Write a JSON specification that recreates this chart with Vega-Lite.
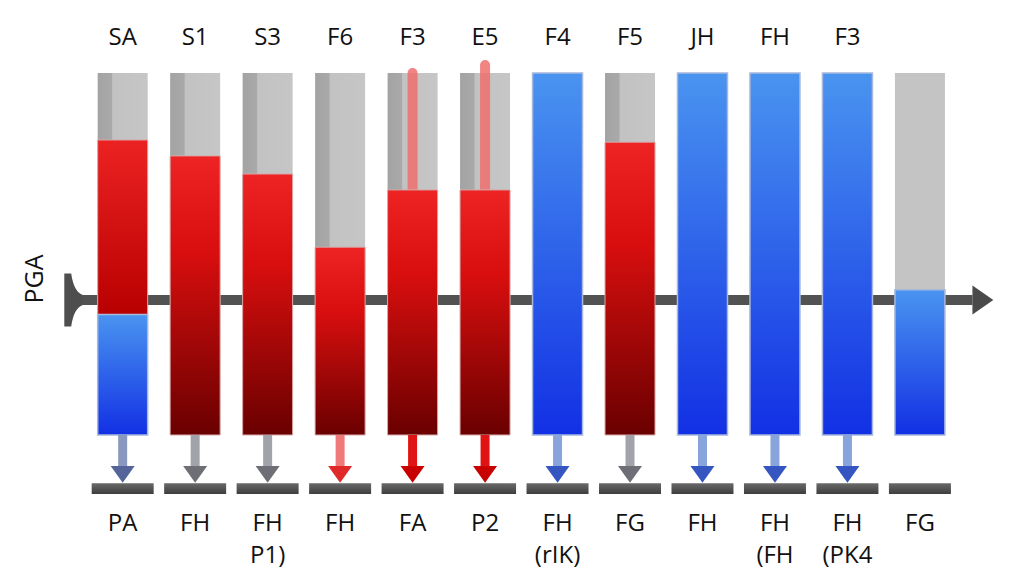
{
  "$schema": "https://vega.github.io/schema/vega-lite/v6.json",
  "width": 1024,
  "height": 585,
  "autosize": {"type": "fit", "contains": "padding"},
  "padding": 0,
  "background": "white",
  "config": {"view": {"stroke": null}},
  "datasets": {
    "cols": [
      {"i": 1, "top": "SA", "bottom": "PA", "bottom2": "", "arrow": "bluegrey"},
      {"i": 2, "top": "S1", "bottom": "FH", "bottom2": "", "arrow": "grey"},
      {"i": 3, "top": "S3", "bottom": "FH", "bottom2": "P1)", "arrow": "grey"},
      {"i": 4, "top": "F6", "bottom": "FH", "bottom2": "", "arrow": "lightred"},
      {"i": 5, "top": "F3", "bottom": "FA", "bottom2": "", "arrow": "red"},
      {"i": 6, "top": "E5", "bottom": "P2", "bottom2": "", "arrow": "red"},
      {"i": 7, "top": "F4", "bottom": "FH", "bottom2": "(rIK)", "arrow": "blue"},
      {"i": 8, "top": "F5", "bottom": "FG", "bottom2": "", "arrow": "grey"},
      {"i": 9, "top": "JH", "bottom": "FH", "bottom2": "", "arrow": "blue"},
      {"i": 10, "top": "FH", "bottom": "FH", "bottom2": "(FH", "arrow": "blue"},
      {"i": 11, "top": "F3", "bottom": "FH", "bottom2": "(PK4", "arrow": "blue"},
      {"i": 12, "top": "", "bottom": "FG", "bottom2": "", "arrow": "none"}
    ],
    "segments": [
      {"i": 1, "kind": "redtop", "from": 33.3, "to": 81.5},
      {"i": 1, "kind": "blue", "from": 0, "to": 33.3},
      {"i": 2, "kind": "red", "from": 0, "to": 77.1},
      {"i": 3, "kind": "red", "from": 0, "to": 72.1},
      {"i": 4, "kind": "red", "from": 0, "to": 51.9},
      {"i": 5, "kind": "red", "from": 0, "to": 67.7},
      {"i": 6, "kind": "red", "from": 0, "to": 67.7},
      {"i": 7, "kind": "blue", "from": 0, "to": 100},
      {"i": 8, "kind": "red", "from": 0, "to": 80.9},
      {"i": 9, "kind": "blue", "from": 0, "to": 100},
      {"i": 10, "kind": "blue", "from": 0, "to": 100},
      {"i": 11, "kind": "blue", "from": 0, "to": 100},
      {"i": 12, "kind": "blue", "from": 0, "to": 40.1}
    ],
    "spikes": [
      {"i": 5, "from": 67.7, "to": 100},
      {"i": 6, "from": 67.7, "to": 102.2}
    ]
  },
  "encoding": {
    "x": {"type": "quantitative", "scale": {"domain": [-0.6236, 13.367], "nice": false, "zero": false}, "axis": null},
    "y": {"type": "quantitative", "scale": {"domain": [-41.44, 120.17], "nice": false, "zero": false}, "axis": null}
  },
  "layer": [
    {
      "data": {"values": [{"part": "axis"}]},
      "mark": {"type": "rule", "strokeWidth": 10, "color": "#525252"},
      "encoding": {
        "x": {"datum": 0.2235, "type": "quantitative"},
        "x2": {"datum": 12.725},
        "y": {"datum": 37.3, "type": "quantitative"}
      }
    },
    {
      "data": {"values": [{"part": "anvil"}]},
      "mark": {"type": "point", "filled": true, "opacity": 1, "color": "#4e4e4e", "size": 2809, "shape": "M -0.34 -1 L -0.08 -1 Q 0.02 -0.3 0.36 -0.19 L 0.36 0.19 Q 0.02 0.3 -0.08 1 L -0.34 1 Z"},
      "encoding": {
        "x": {"datum": 0.319, "type": "quantitative"},
        "y": {"datum": 37.3, "type": "quantitative"}
      }
    },
    {
      "data": {"values": [{"part": "arrowhead"}]},
      "mark": {"type": "point", "filled": true, "opacity": 1, "color": "#4a4a4a", "size": 841, "shape": "M -0.72 -1 L 0.72 0 L -0.72 1 Z"},
      "encoding": {
        "x": {"datum": 12.869, "type": "quantitative"},
        "y": {"datum": 37.3, "type": "quantitative"}
      }
    },
    {
      "data": {"name": "cols"},
      "transform": [{"filter": "datum.i < 12"}],
      "mark": {"type": "bar", "width": 50, "color": {"gradient": "linear", "x1": 0, "y1": 0, "x2": 1, "y2": 0, "stops": [{"offset": 0, "color": "#a3a3a3"}, {"offset": 0.28, "color": "#a9a9a9"}, {"offset": 0.3, "color": "#c2c2c2"}, {"offset": 1, "color": "#c6c6c6"}]}},
      "encoding": {
        "x": {"field": "i"},
        "y": {"datum": 100, "type": "quantitative"},
        "y2": {"datum": 0}
      }
    },
    {
      "data": {"name": "cols"},
      "transform": [{"filter": "datum.i === 12"}],
      "mark": {"type": "bar", "width": 50, "color": "#c4c4c4"},
      "encoding": {
        "x": {"field": "i"},
        "y": {"datum": 100, "type": "quantitative"},
        "y2": {"datum": 0}
      }
    },
    {
      "data": {"name": "spikes"},
      "mark": {"type": "rule", "strokeWidth": 10, "strokeCap": "round", "color": "#f06e6e", "opacity": 0.85},
      "encoding": {
        "x": {"field": "i"},
        "y": {"field": "to", "type": "quantitative"},
        "y2": {"field": "from"}
      }
    },
    {
      "data": {"name": "segments"},
      "transform": [{"filter": "datum.kind === 'red'"}],
      "mark": {"type": "bar", "width": 50, "stroke": "#d8a8a8", "strokeWidth": 1, "color": {"gradient": "linear", "x1": 0, "y1": 0, "x2": 0, "y2": 1, "stops": [{"offset": 0, "color": "#ee2424"}, {"offset": 0.35, "color": "#d80e0e"}, {"offset": 1, "color": "#6a0000"}]}},
      "encoding": {
        "x": {"field": "i"},
        "y": {"field": "to", "type": "quantitative"},
        "y2": {"field": "from"}
      }
    },
    {
      "data": {"name": "segments"},
      "transform": [{"filter": "datum.kind === 'redtop'"}],
      "mark": {"type": "bar", "width": 50, "stroke": "#d8a8a8", "strokeWidth": 1, "color": {"gradient": "linear", "x1": 0, "y1": 0, "x2": 0, "y2": 1, "stops": [{"offset": 0, "color": "#ec2222"}, {"offset": 1, "color": "#b80000"}]}},
      "encoding": {
        "x": {"field": "i"},
        "y": {"field": "to", "type": "quantitative"},
        "y2": {"field": "from"}
      }
    },
    {
      "data": {"name": "segments"},
      "transform": [{"filter": "datum.kind === 'blue'"}],
      "mark": {"type": "bar", "width": 50, "stroke": "#a8b8dc", "strokeWidth": 1.5, "color": {"gradient": "linear", "x1": 0, "y1": 0, "x2": 0, "y2": 1, "stops": [{"offset": 0, "color": "#4a94f0"}, {"offset": 1, "color": "#1230e4"}]}},
      "encoding": {
        "x": {"field": "i"},
        "y": {"field": "to", "type": "quantitative"},
        "y2": {"field": "from"}
      }
    },
    {
      "data": {"name": "cols"},
      "transform": [{"filter": "datum.arrow !== 'none'"}],
      "mark": {"type": "rule", "strokeWidth": 9},
      "encoding": {
        "x": {"field": "i"},
        "y": {"datum": 0, "type": "quantitative"},
        "y2": {"datum": -8.9},
        "stroke": {"field": "arrow", "type": "nominal", "legend": null, "scale": {"domain": ["bluegrey", "grey", "lightred", "red", "blue"], "range": ["#8a98c0", "#a2a2aa", "#f07a7a", "#e01414", "#88a4dc"]}}
      }
    },
    {
      "data": {"name": "cols"},
      "transform": [{"filter": "datum.arrow !== 'none'"}],
      "mark": {"type": "point", "filled": true, "opacity": 1, "size": 576, "shape": "M -1 -0.7 L 1 -0.7 L 0 0.7 Z"},
      "encoding": {
        "x": {"field": "i"},
        "y": {"datum": -10.9, "type": "quantitative"},
        "fill": {"field": "arrow", "type": "nominal", "legend": null, "scale": {"domain": ["bluegrey", "grey", "lightred", "red", "blue"], "range": ["#55659a", "#6e6e76", "#e02a2a", "#c80000", "#3556c0"]}}
      }
    },
    {
      "data": {"name": "cols"},
      "mark": {"type": "bar", "width": 62, "color": {"gradient": "linear", "x1": 0, "y1": 0, "x2": 0, "y2": 1, "stops": [{"offset": 0, "color": "#6a6a6a"}, {"offset": 1, "color": "#3e3e3e"}]}},
      "encoding": {
        "x": {"field": "i"},
        "y": {"datum": -13.3, "type": "quantitative"},
        "y2": {"datum": -16.3}
      }
    },
    {
      "data": {"name": "cols"},
      "mark": {"type": "text", "font": "Open Sans", "fontSize": 24, "color": "#111111", "align": "center", "baseline": "alphabetic"},
      "encoding": {
        "x": {"field": "i"},
        "y": {"datum": 107.7, "type": "quantitative"},
        "text": {"field": "top"}
      }
    },
    {
      "data": {"name": "cols"},
      "mark": {"type": "text", "font": "Open Sans", "fontSize": 24, "color": "#111111", "align": "center", "baseline": "alphabetic"},
      "encoding": {
        "x": {"field": "i"},
        "y": {"datum": -26.5, "type": "quantitative"},
        "text": {"field": "bottom"}
      }
    },
    {
      "data": {"name": "cols"},
      "mark": {"type": "text", "font": "Open Sans", "fontSize": 24, "color": "#111111", "align": "center", "baseline": "alphabetic"},
      "encoding": {
        "x": {"field": "i"},
        "y": {"datum": -35.4, "type": "quantitative"},
        "text": {"field": "bottom2"}
      }
    },
    {
      "data": {"values": [{"label": "PGA"}]},
      "mark": {"type": "text", "font": "Open Sans", "fontSize": 25, "color": "#111111", "align": "center", "baseline": "middle", "angle": 270},
      "encoding": {
        "x": {"datum": -0.214, "type": "quantitative"},
        "y": {"datum": 43.1, "type": "quantitative"},
        "text": {"field": "label"}
      }
    }
  ]
}
